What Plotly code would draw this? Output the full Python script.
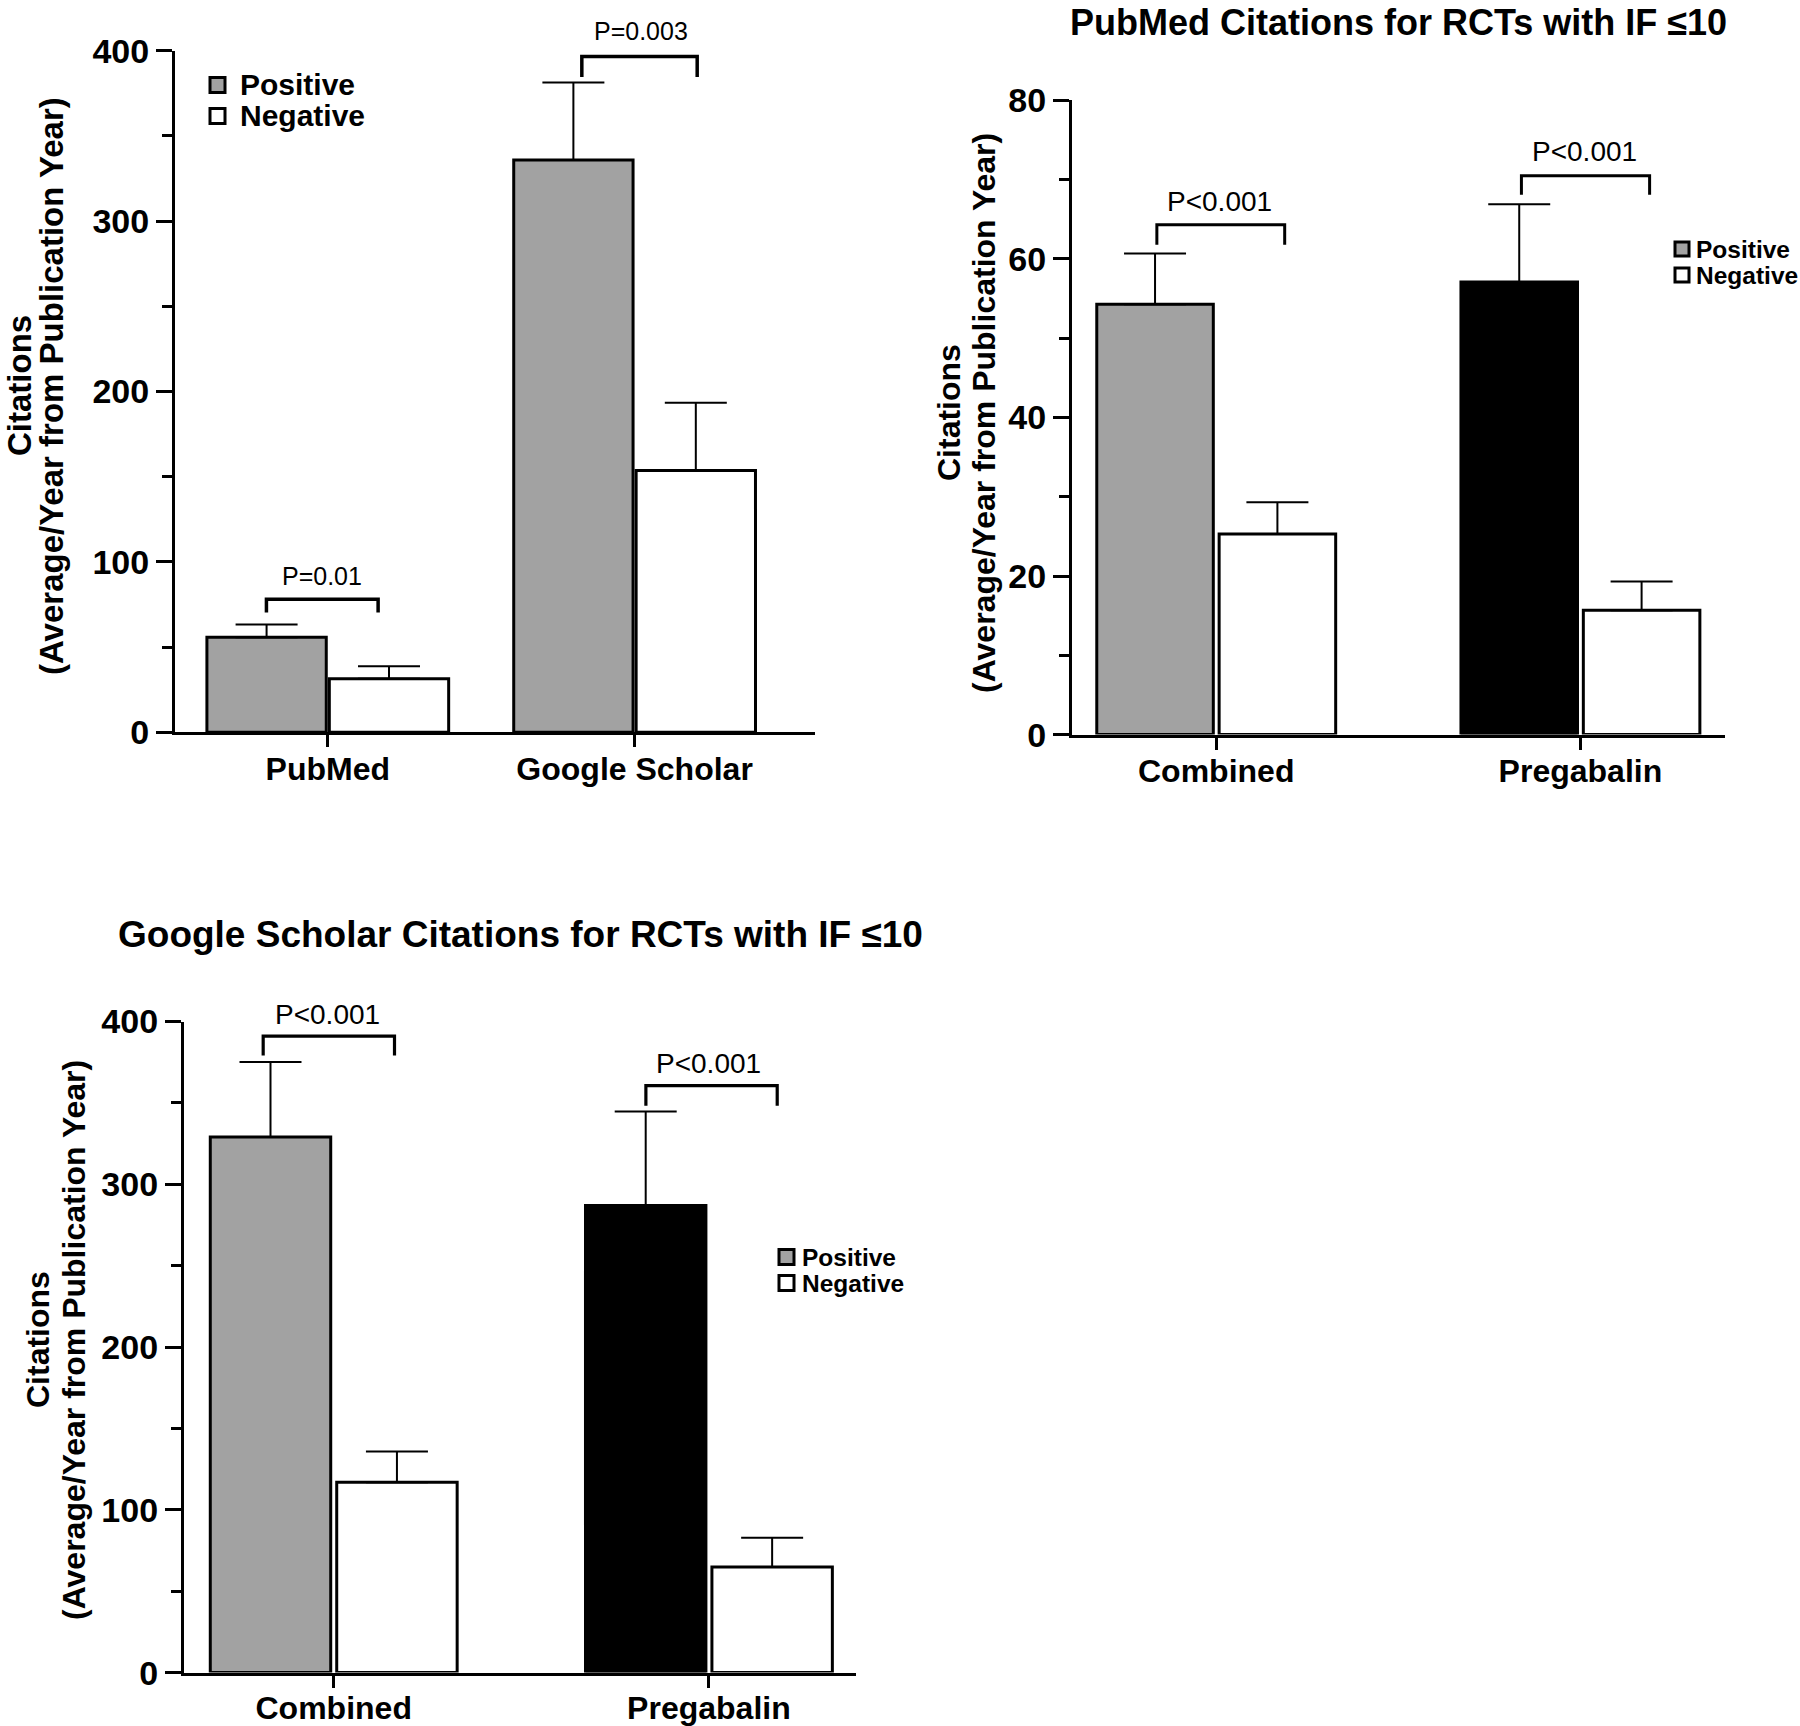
import plotly.graph_objects as go

# ---------------- data ----------------
series_names = ["Positive", "Negative"]

p1_categories = ["PubMed", "Google Scholar"]
p1_pos = [55.7, 335.8]
p1_pos_err = [7.5, 45.5]
p1_neg = [31.4, 153.6]
p1_neg_err = [7.3, 39.8]
p1_pvalues = ["P=0.01", "P=0.003"]

p2_title = "PubMed Citations for RCTs with IF ≤10"
p2_categories = ["Combined", "Pregabalin"]
p2_pos = [54.3, 57.1]
p2_pos_err = [6.4, 9.8]
p2_neg = [25.3, 15.7]
p2_neg_err = [4.0, 3.6]
p2_pvalues = ["P<0.001", "P<0.001"]

p3_title = "Google Scholar Citations for RCTs with IF ≤10"
p3_categories = ["Combined", "Pregabalin"]
p3_pos = [329.1, 287.0]
p3_pos_err = [46.0, 57.7]
p3_neg = [116.9, 64.9]
p3_neg_err = [18.9, 17.9]
p3_pvalues = ["P<0.001", "P<0.001"]

y_title_line1 = "Citations"
y_title_line2 = "(Average/Year from Publication Year)"

# ---------------- styling / layout ----------------
W, H = 1800, 1726
GRAY = "#a2a2a2"
BLACK = "#000000"
FONT = "Liberation Sans, Arial, Helvetica, sans-serif"


def xf(px):
    return px / W


def yf(py):
    return 1 - py / H


panels = [
    dict(cats=p1_categories, pos=p1_pos, pos_err=p1_pos_err, neg=p1_neg, neg_err=p1_neg_err,
         pos_colors=[GRAY, GRAY], pvals=p1_pvalues,
         xdom=(175, 815), ydom=(50.7, 732.2), xrange=[-0.498, 1.588], yrange=[0, 400],
         dtick=100, minor=50, w=0.389, hg=0.005,
         br_span=[(-0.20, 0.164), (-0.172, 0.204)], br_top=[78, 396.6], br_drop=[70.3, 384.6],
         txt_x=[-0.02, 0.02], txt_y=[91.5, 411.6], ptxt_size=25, br_w=3.5,
         title=None, title_xy=None, title_size=36,
         ytitle_x=(20, 52), ytitle_y=386, ytitle_size=33,
         xlab_size=32, xlab_standoff=-6,
         leg_sq=(210, 15), leg_rows=(85, 116), leg_txt_x=238, leg_size=30),
    dict(cats=p2_categories, pos=p2_pos, pos_err=p2_pos_err, neg=p2_neg, neg_err=p2_neg_err,
         pos_colors=[GRAY, BLACK], pvals=p2_pvalues,
         xdom=(1072, 1725), ydom=(100.4, 734.6), xrange=[-0.396, 1.397], yrange=[0, 80],
         dtick=20, minor=10, w=0.32, hg=0.008,
         br_span=[(-0.163, 0.188), (-0.162, 0.19)], br_top=[64.3, 70.5], br_drop=[61.8, 68.1],
         txt_x=[0.01, 0.01], txt_y=[67.3, 73.6], ptxt_size=28, br_w=3,
         title=p2_title, title_xy=(1398, 22), title_size=36,
         ytitle_x=(949, 984), ytitle_y=413, ytitle_size=32,
         xlab_size=32, xlab_standoff=-6,
         leg_sq=(1675, 14), leg_rows=(249, 275), leg_txt_x=1694, leg_size=24.5),
    dict(cats=p3_categories, pos=p3_pos, pos_err=p3_pos_err, neg=p3_neg, neg_err=p3_neg_err,
         pos_colors=[GRAY, BLACK], pvals=p3_pvalues,
         xdom=(183.9, 855.7), ydom=(1021.5, 1672.6), xrange=[-0.3993, 1.3912], yrange=[0, 400],
         dtick=100, minor=50, w=0.321, hg=0.008,
         br_span=[(-0.188, 0.162), (-0.168, 0.182)], br_top=[391, 360.6], br_drop=[379.1, 348.3],
         txt_x=[-0.016, 0.0], txt_y=[404.5, 374], ptxt_size=28, br_w=3.2,
         title=p3_title, title_xy=(520, 934), title_size=37,
         ytitle_x=(38, 74), ytitle_y=1340, ytitle_size=32,
         xlab_size=32, xlab_standoff=-7,
         leg_sq=(779, 15), leg_rows=(1257, 1283), leg_txt_x=800, leg_size=24.5),
]

fig = go.Figure()
shapes = []
annotations = []
layout_axes = {}

for i, p in enumerate(panels):
    n = "" if i == 0 else str(i + 1)
    xa, ya = "x" + n, "y" + n
    xkey, ykey = "xaxis" + n, "yaxis" + n
    ymax = p["yrange"][1]

    # bars
    fig.add_trace(go.Bar(
        x=p["cats"], y=p["pos"], name=series_names[0], xaxis=xa, yaxis=ya,
        width=p["w"], offset=-(p["w"] + p["hg"]),
        marker=dict(color=p["pos_colors"], line=dict(color="black", width=3)),
        error_y=dict(type="data", array=p["pos_err"], arrayminus=[0] * len(p["pos_err"]),
                     symmetric=False, color="black", thickness=2, width=31),
        showlegend=False,
    ))
    fig.add_trace(go.Bar(
        x=p["cats"], y=p["neg"], name=series_names[1], xaxis=xa, yaxis=ya,
        width=p["w"], offset=p["hg"],
        marker=dict(color="white", line=dict(color="black", width=3)),
        error_y=dict(type="data", array=p["neg_err"], arrayminus=[0] * len(p["neg_err"]),
                     symmetric=False, color="black", thickness=2, width=31),
        showlegend=False,
    ))

    layout_axes[xkey] = dict(
        domain=[xf(p["xdom"][0]), xf(p["xdom"][1])], anchor=ya, range=p["xrange"],
        type="category", showline=True, linecolor="black", linewidth=3,
        ticks="outside", ticklen=12, tickwidth=3, tickcolor="black",
        showgrid=False, zeroline=False, ticklabelstandoff=p["xlab_standoff"], automargin=False,
        tickfont=dict(family=FONT, size=p["xlab_size"], color="black", weight="bold"),
        fixedrange=True,
    )
    layout_axes[ykey] = dict(
        domain=[yf(p["ydom"][1]), yf(p["ydom"][0])], anchor=xa, range=p["yrange"],
        showline=True, linecolor="black", linewidth=3, dtick=p["dtick"], tick0=0,
        ticks="outside", ticklen=16, tickwidth=3, tickcolor="black",
        minor=dict(dtick=p["minor"], ticks="outside", ticklen=10, tickwidth=3,
                   tickcolor="black", showgrid=False),
        showgrid=False, zeroline=False, automargin=False,
        tickfont=dict(family=FONT, size=34, color="black", weight="bold"),
        fixedrange=True,
    )

    # significance brackets
    for j in range(len(p["cats"])):
        l, r = p["br_span"][j]
        top, drop = p["br_top"][j], p["br_drop"][j]
        path = f"M {j + l},{drop} L {j + l},{top} L {j + r},{top} L {j + r},{drop}"
        shapes.append(dict(type="path", path=path, xref=xa, yref=ya,
                           line=dict(color="black", width=p["br_w"])))
        annotations.append(dict(x=j + p["txt_x"][j], y=p["txt_y"][j] / ymax,
                                xref=xa, yref=ya + " domain",
                                text=p["pvals"][j], showarrow=False,
                                xanchor="center", yanchor="middle",
                                font=dict(family=FONT, size=p["ptxt_size"], color="black")))

    # y axis title (two lines)
    for k, txt in enumerate([y_title_line1, y_title_line2]):
        annotations.append(dict(x=xf(p["ytitle_x"][k]), y=yf(p["ytitle_y"]), xref="paper",
                                yref="paper", text=txt, textangle=-90, showarrow=False,
                                xanchor="center", yanchor="middle",
                                font=dict(family=FONT, size=p["ytitle_size"], color="black",
                                          weight="bold")))

    # panel title
    if p["title"]:
        annotations.append(dict(x=xf(p["title_xy"][0]), y=yf(p["title_xy"][1]), xref="paper",
                                yref="paper", text=p["title"], showarrow=False,
                                xanchor="center", yanchor="middle",
                                font=dict(family=FONT, size=p["title_size"], color="black",
                                          weight="bold")))

    # legend
    sx, ss = p["leg_sq"]
    fills = [GRAY, "white"]
    for k, name in enumerate(series_names):
        cy = p["leg_rows"][k]
        shapes.append(dict(type="rect", xref="paper", yref="paper",
                           x0=xf(sx), x1=xf(sx + ss), y0=yf(cy + ss / 2), y1=yf(cy - ss / 2),
                           fillcolor=fills[k], line=dict(color="black", width=3)))
        annotations.append(dict(x=xf(p["leg_txt_x"]), y=yf(cy), xref="paper", yref="paper",
                                text=name, showarrow=False, xanchor="left", yanchor="middle",
                                font=dict(family=FONT, size=p["leg_size"], color="black",
                                          weight="bold")))

fig.update_layout(
    template="none",
    width=W, height=H, margin=dict(l=0, r=0, t=0, b=0, pad=0, autoexpand=False),
    paper_bgcolor="white", plot_bgcolor="white",
    barmode="overlay", showlegend=False,
    shapes=shapes, annotations=annotations,
    font=dict(family=FONT, color="black"),
    **layout_axes,
)

fig.write_html(
    "out.html",
    config={"displayModeBar": False, "staticPlot": True},
    post_script="document.body.style.margin='0px';document.body.style.overflow='hidden';",
)
